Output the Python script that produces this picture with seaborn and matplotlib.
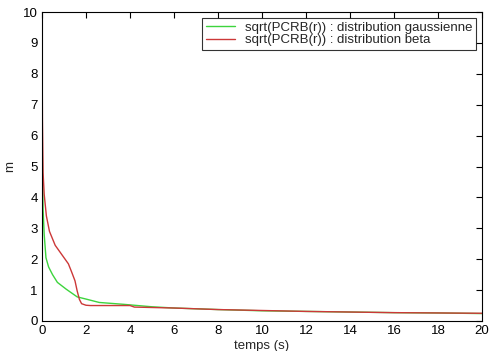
import seaborn as sns
import matplotlib.pyplot as plt
import pandas as pd

# temps (s) and sqrt(PCRB(r)) values
t_gauss = [0, 0.02, 0.05, 0.1, 0.18, 0.3, 0.48, 0.7, 1.1, 1.6, 2.0, 2.6, 3.7, 5, 6, 8, 10, 12, 14, 16, 18, 20]
m_gauss = [6.6, 4.9, 3.6, 2.8, 2.05, 1.75, 1.5, 1.25, 1.03, 0.78, 0.71, 0.6, 0.54, 0.46, 0.42, 0.37, 0.33, 0.31, 0.29, 0.27, 0.26, 0.24]

t_beta = [0, 0.02, 0.05, 0.1, 0.2, 0.34, 0.6, 0.95, 1.2, 1.34, 1.5, 1.6, 1.7, 1.8, 2.0, 2.2, 3, 4, 4.2, 6, 8, 10, 12, 14, 16, 18, 20]
m_beta = [9.4, 6.5, 4.8, 4.1, 3.4, 2.9, 2.45, 2.1, 1.85, 1.6, 1.3, 0.97, 0.7, 0.56, 0.51, 0.5, 0.5, 0.5, 0.45, 0.42, 0.37, 0.34, 0.31, 0.29, 0.27, 0.26, 0.25]

lab_gauss = 'sqrt(PCRB(r)) : distribution gaussienne'
lab_beta = 'sqrt(PCRB(r)) : distribution beta'

df = pd.concat([
    pd.DataFrame({'t': t_gauss, 'm': m_gauss, 'serie': lab_gauss}),
    pd.DataFrame({'t': t_beta, 'm': m_beta, 'serie': lab_beta}),
])

sns.set_theme(style='white')
plt.rcParams['font.family'] = ['Liberation Sans', 'DejaVu Sans']

fig = plt.figure(figsize=(4.9, 3.51), dpi=100)
ax = fig.add_axes([0.0857, 0.0855, 0.898, 0.880])

sns.lineplot(data=df, x='t', y='m', hue='serie', sort=False,
             palette={lab_gauss: '#3dd43d', lab_beta: '#cc3838'},
             linewidth=1.0, ax=ax)

ax.set_xlim(0, 20)
ax.set_ylim(0, 10)
ax.set_xticks(range(0, 21, 2))
ax.set_yticks(range(0, 11, 1))
ax.tick_params(direction='in', length=4, width=0.8, top=True, right=True,
               labelsize=9.5, pad=3, colors='black')
for s in ax.spines.values():
    s.set_color('black')
    s.set_linewidth(0.8)
ax.set_xlabel('temps (s)', fontsize=9.5, labelpad=2)
ax.set_ylabel('m', fontsize=9.5, labelpad=5)

leg = ax.legend(loc='upper right', fontsize=9.5, frameon=True, fancybox=False,
                edgecolor='black', handlelength=2.2, borderaxespad=0.45,
                borderpad=0.25, labelspacing=0.05, handletextpad=0.8)
leg.get_frame().set_linewidth(0.8)

plt.savefig('out.png', dpi=100)
plt.close()
